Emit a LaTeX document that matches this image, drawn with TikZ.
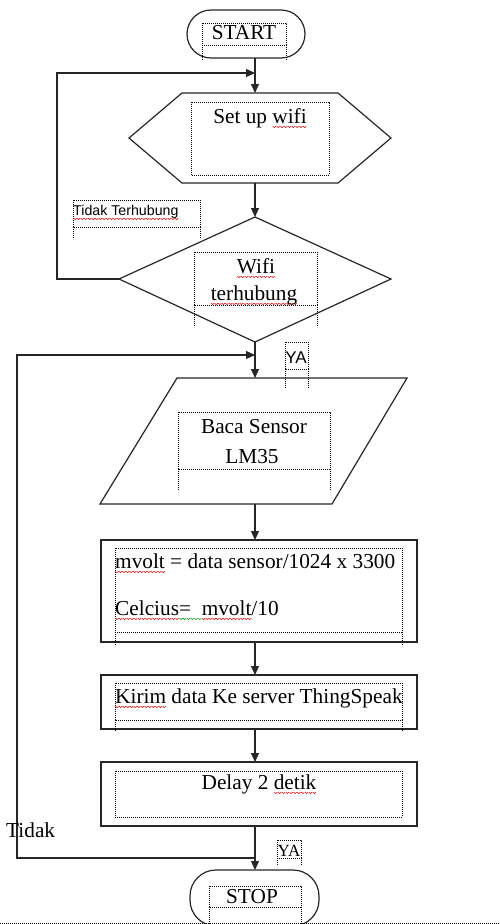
\documentclass[tikz,border=0pt]{standalone}
\usepackage{fontspec}
\setmainfont{Liberation Serif}
\newfontfamily\uisans{Liberation Sans}
\usetikzlibrary{arrows.meta}

% wavy underline for flagged words, built from repeated zigzag pieces
\newsavebox\flagbox
\newcommand\wavepiece[1]{\tikz[baseline=0pt]\draw[#1,line width=0.55pt,line cap=round] (0pt,0pt) -- (1.5pt,-1.4pt) -- (3pt,0pt);}
\newcommand\wavy[2]{%
  \sbox\flagbox{#2}%
  \rlap{\raisebox{-3.2pt}{\hbox to\wd\flagbox{\xleaders\hbox{\wavepiece{#1}}\hfill}}}%
  \usebox\flagbox}
\newcommand\spell[1]{\wavy{red!90!black}{#1}}
\newcommand\gramm[1]{\wavy{green!60!black}{#1}}

% dotted text-box outline: x1,y1,x2,ydivider,ysides
\newcommand\wordbox[5]{%
  \draw[frame] (#1,#2) rectangle (#3,#4);
  \draw[frame] (#1,#4) -- (#1,#5) (#3,#4) -- (#3,#5);}

\begin{document}
\begin{tikzpicture}[x=1pt,y=-1pt,
  outline/.style={draw=black!85,line width=1.2pt},
  link/.style={draw=black!85,line width=1.2pt,-{Triangle[length=9pt,width=8pt]}},
  frame/.style={draw=black,line width=0.7pt,dash pattern=on 0.9pt off 1.1pt},
  txt/.style={inner sep=0pt,anchor=base,font=\fontsize{21.3}{25}\selectfont},
  txtl/.style={txt,anchor=base west}]

\useasboundingbox (0,0) rectangle (499,924);

% ---- shapes ----
\draw[outline,rounded corners=24pt] (187,10) rectangle (305,58);
\coordinate (startB) at (255,58);

\draw[outline] (129,138) -- (182,93) -- (338,93) -- (391,138) -- (338,183) -- (182,183) -- cycle;
\coordinate (hexT) at (255,93);
\coordinate (hexB) at (255,183);

\draw[outline] (255,217) -- (391,279) -- (255,342) -- (119,279) -- cycle;
\coordinate (decT) at (255,217);
\coordinate (decL) at (119,279);
\coordinate (decB) at (255,342);

\draw[outline] (177,378) -- (407,378) -- (332,504) -- (100,504) -- cycle;
\coordinate (inT) at (255,378);
\coordinate (inB) at (255,504);

\draw[outline] (101,540) rectangle (417,642);
\coordinate (r1T) at (255,540);
\coordinate (r1B) at (255,642);

\draw[outline] (101,675) rectangle (417,729);
\coordinate (r2T) at (255,675);
\coordinate (r2B) at (255,729);

\draw[outline] (101,762) rectangle (417,826);
\coordinate (r3T) at (255,762);
\coordinate (r3B) at (255,826);

\begin{scope}
  \clip (0,0) rectangle (499,924);
  \draw[outline,rounded corners=26pt] (190,870) rectangle (319,926);
\end{scope}
\coordinate (stopT) at (255,870);

% ---- connectors ----
\coordinate (loopIn) at (255,73);
\coordinate (retIn) at (255,355);
\coordinate (tidakJ) at (255,858);

\draw[link] (startB) -- (hexT);
\draw[link] (hexB) -- (decT);
\draw[link] (decL) -- (57,279) |- (loopIn);
\draw[link] (decB) -- (inT);
\draw[link] (inB) -- (r1T);
\draw[link] (r1B) -- (r2T);
\draw[link] (r2B) -- (r3T);
\draw[link] (r3B) -- (stopT);
\draw[link] (tidakJ) -- (17,858) -- (17,355) -- (retIn);

% ---- dotted text boxes ----
\wordbox{202}{23}{286}{45}{60}
\wordbox{191}{102}{329}{175}{175}
\wordbox{73}{200}{200}{227}{239}
\wordbox{194}{252}{317}{305}{327}
\wordbox{285}{342}{308}{369}{388}
\wordbox{178}{412}{330}{469}{490}
\wordbox{115}{548}{402}{632}{646}
\wordbox{115}{683}{402}{720}{731}
\wordbox{115}{771}{402}{817}{817}
\wordbox{277}{840}{301}{858}{865}
\wordbox{209}{886}{301}{907}{924}
\draw[frame] (0,923) -- (499,923);

% ---- texts ----
\node[txt] (tStart) at (244,39) {START};
\node[txt] (tSetup) at (260,123) {Set up \spell{wifi}};
\node[txtl,font=\uisans\fontsize{14.2}{16}\selectfont] (tNo) at (73,215) {\spell{Tidak Terhubung}};
\node[txt] (tWifi) at (256,273) {\spell{Wifi}};
\node[txt] (tConn) at (254,300) {\spell{terhubung}};
\node[txt,font=\uisans\fontsize{17}{20}\selectfont] (tYa1) at (296,363) {YA};
\node[txt] (tBaca) at (254,433) {Baca Sensor};
\node[txt] (tLm) at (252,463) {LM35};
\node[txtl] (tVolt) at (115,568) {\spell{mvolt} = data sensor/1024 x 3300};
\node[txtl] (tCel) at (115,615) {\spell{Celcius}\gramm{=\ \ }\spell{mvolt}/10};
\node[txtl] (tSend) at (115,703) {\spell{Kirim} data Ke server ThingSpeak};
\node[txt] (tDelay) at (259,789) {Delay 2 \spell{detik}};
\node[txtl] (tNo2) at (6,837) {Tidak};
\node[txt,font=\fontsize{17}{20}\selectfont] (tYa2) at (289,856) {YA};
\node[txt] (tStop) at (252,903) {STOP};
\end{tikzpicture}
\end{document}
